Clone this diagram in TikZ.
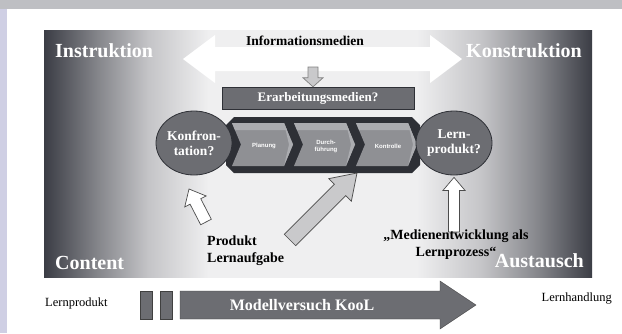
\documentclass[tikz,border=0pt]{standalone}
\usepackage{fontspec}
\setmainfont{Liberation Serif}
\setsansfont{Liberation Sans}
\usetikzlibrary{calc,shapes.geometric}

\definecolor{edgedark}{HTML}{3B3D45}
\definecolor{edgemid}{HTML}{86878C}
\definecolor{edgelight}{HTML}{C4C4C7}
\definecolor{midfield}{HTML}{EFEFF0}
\definecolor{boxgray}{HTML}{6C6D72}
\definecolor{chaingray}{HTML}{8F9094}
\definecolor{chainlight}{HTML}{ABACB0}
\definecolor{framedark}{HTML}{2E3036}
\definecolor{arrowgray}{HTML}{C9C9CB}
\definecolor{topband}{HTML}{BEBFC3}
\definecolor{sideband}{HTML}{CFCFE4}

% path box is mapped onto 25bp..75bp
\pgfdeclarehorizontalshading{mainshade}{100bp}{color(0bp)=(edgedark); color(25bp)=(edgedark); color(30bp)=(edgemid); color(34.5bp)=(edgelight); color(40bp)=(midfield); color(59bp)=(midfield); color(65bp)=(edgelight); color(70bp)=(edgemid); color(75bp)=(edgedark); color(100bp)=(edgedark)}

% block arrow: [style]{tail}{tip}{half shaft}{half head}{head length}
\newcommand\blockarrow[6][]{%
  \path ($(#3)!#6!(#2)$) coordinate (ba-h);
  \draw[#1] ($(#2)!#4!90:(#3)$) -- ($(ba-h)!#4!90:(#3)$) -- ($(ba-h)!#5!90:(#3)$) -- (#3)
    -- ($(ba-h)!#5!-90:(#3)$) -- ($(ba-h)!#4!-90:(#3)$) -- ($(#2)!#4!-90:(#3)$) -- cycle;}

\begin{document}
\begin{tikzpicture}[x=1pt,y=-1pt,
  plaintext/.style={font=\bfseries\fontsize{14}{17}\selectfont, inner sep=0pt},
  cornertext/.style={font=\bfseries\fontsize{20}{22}\selectfont, text=white, inner sep=0pt},
  bubble/.style={ellipse, draw=framedark, fill=boxgray, line width=0.8pt, text=white, align=center,
    font=\bfseries\fontsize{13.5}{15}\selectfont, inner sep=0pt},
  stagetext/.style={font=\sffamily\bfseries\fontsize{6}{7}\selectfont, text=white, align=center},
  hollow/.style={fill=white, draw=black!70, line width=0.7pt},
  greyarrow/.style={fill=arrowgray, draw=black!70, line width=0.7pt},
  barbox/.style={draw=black!75, fill=boxgray, minimum width=12pt, minimum height=28pt, inner sep=0pt}]
  \useasboundingbox (0,0) rectangle (622,333);
  \fill[white] (0,0) rectangle (622,333);
  \fill[topband] (0,0) rectangle (622,9);
  \fill[sideband] (0,9) rectangle (7,333);

  % main field
  \shade[shading=mainshade] (44,30) rectangle (592,277);
  \node[cornertext, anchor=west] (instr) at (55,51) {Instruktion};
  \node[cornertext, anchor=east] (konstr) at (582,51) {Konstruktion};
  \node[cornertext, anchor=west] (content) at (55,263) {Content};
  \node[cornertext, anchor=east] (austausch) at (584,261) {Austausch};

  % Informationsmedien
  \fill[white] (183,59) -- (215,35) -- (215,47) -- (430,47) -- (430,35) -- (462,59)
    -- (430,83) -- (430,71) -- (215,71) -- (215,83) -- cycle;
  \node[font=\bfseries\fontsize{13.5}{15}\selectfont, inner sep=0pt] (infomed) at (305,41) {Informationsmedien};
  \node[draw=framedark, fill=boxgray, minimum width=192pt, minimum height=22pt, inner sep=0pt,
    text=white, font=\bfseries\fontsize{13}{14}\selectfont] (erarb) at (318,98) {Erarbeitungsmedien?};
  \coordinate (dtail) at (313,67);
  \blockarrow[greyarrow, draw=black!50]{dtail}{erarb.north -| dtail}{5pt}{10pt}{9pt}

  % process chain
  \fill[framedark] (234,117) -- (412,117) -- (420,125) -- (420,165) -- (412,173)
    -- (234,173) -- (226,165) -- (226,125) -- cycle;
  \foreach \i in {0,1,2} {
    \fill[chaingray] ({232+62*\i},123) -- ({284+62*\i},123) -- ({293+62*\i},144.5)
      -- ({284+62*\i},166) -- ({232+62*\i},166) -- ({241+62*\i},144.5) -- cycle;
    \fill[chainlight] ({232+62*\i},123) -- ({284+62*\i},123) -- ({287+62*\i},130)
      -- ({235+62*\i},130) -- cycle;
    \fill[chainlight] ({284+62*\i},123) -- ({293+62*\i},144.5) -- ({284+62*\i},166)
      -- ({289+62*\i},144.5) -- cycle;
  }
  \node[stagetext] (plan) at (264,146) {Planung};
  \node[stagetext] (durch) at (326,146) {Durch-\\führung};
  \node[stagetext] (kontr) at (388,146) {Kontrolle};
  \coordinate (chainbottom) at (357,173);

  \node[bubble, minimum width=74pt, minimum height=64pt] (konfr) at (194,143) {Konfron-\\tation?};
  \node[bubble, minimum width=68pt, minimum height=64pt] (lernprod) at (454,143) {Lern-\\produkt?};

  % arrows into the chain
  \coordinate (ktail) at (206,222);
  \coordinate (ktip) at (189,189);
  \blockarrow[hollow]{ktail}{ktip}{6pt}{12pt}{14pt}
  \coordinate (ltail) at (454,232);
  \blockarrow[hollow]{ltail}{$(lernprod.south)+(0,2)$}{5.5pt}{11pt}{13pt}
  \coordinate (gtail) at (290,240);
  \blockarrow[greyarrow]{gtail}{chainbottom}{8pt}{16pt}{24pt}

  \node[plaintext, align=left, anchor=north west] (produkt) at (207,236) {Produkt\\Lernaufgabe};
  \node[plaintext, align=center] (medien) at (456,245) {„Medienentwicklung als\\Lernprozess“};

  % bottom row
  \node[font=\fontsize{12.5}{14}\selectfont, anchor=west, inner sep=0pt] (lernprodB) at (45,303) {Lernprodukt};
  \node[barbox] (bar1) at (146,305) {};
  \node[barbox] (bar2) at (166,305) {};
  \fill[boxgray, draw=black!75] (180,291) -- (440,291) -- (440,281) -- (476,305) -- (440,329)
    -- (440,319) -- (180,319) -- cycle;
  \node[font=\bfseries\fontsize{16}{18}\selectfont, text=white, inner sep=0pt] (kool) at (302,305) {Modellversuch KooL};
  \node[font=\fontsize{12.5}{14}\selectfont, anchor=east, inner sep=0pt] (lernhandl) at (612,299) {Lernhandlung};
\end{tikzpicture}
\end{document}
